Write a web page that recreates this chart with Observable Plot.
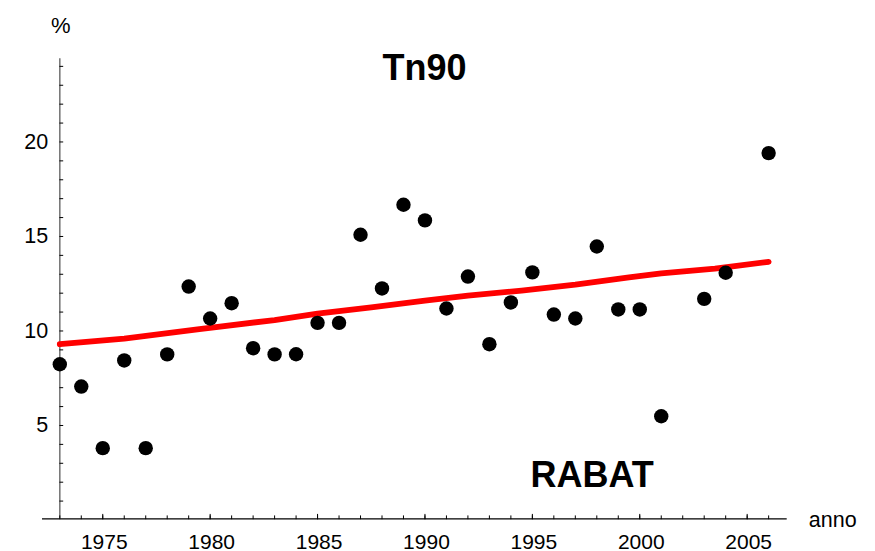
<!DOCTYPE html>
<html><head><meta charset="utf-8">
<script src="https://cdn.jsdelivr.net/npm/d3@7"></script>
<script src="https://cdn.jsdelivr.net/npm/@observablehq/plot@0.6"></script>
<style>html,body{margin:0;padding:0;background:#fff} svg{display:block}</style>
</head><body><div id="chart"></div>
<script>
// Data
const years  = [1973,1974,1975,1976,1977,1978,1979,1980,1981,1982,1983,1984,1985,1986,1987,1988,1989,1990,1991,1992,1993,1994,1995,1996,1997,1998,1999,2000,2001,2003,2004,2006];
const values = [8.24,7.06,3.80,8.44,3.80,8.76,12.35,10.66,11.47,9.09,8.76,8.77,10.43,10.43,15.09,12.25,16.68,15.85,11.19,12.88,9.30,11.51,13.10,10.87,10.66,14.47,11.14,11.14,5.49,11.70,13.08,19.41];
const trendYears  = [1973,1976,1979.5,1983,1985,1987.5,1990,1992,1994.5,1997,1999.5,2001,2003.5,2006];
const trendValues = [9.30,9.60,10.10,10.58,10.92,11.25,11.60,11.87,12.14,12.45,12.83,13.05,13.30,13.66];

const xMajorTicks = [1975,1980,1985,1990,1995,2000,2005];
const xMinorTicks = d3.range(1973, 2007);
const yMajorTicks = [5,10,15,20];
const yMinorTicks = d3.range(1, 25);

const titleText = "Tn90";
const stationText = "RABAT";
const yLabelText = "%";
const xLabelText = "anno";

const xDomain = [1973, 2006.864];
const xAxisStart = 1972.195;
const yDomain = [0.063, 24.4];

const points = years.map((y, i) => ({year: y, value: values[i]}));
const trend = trendYears.map((y, i) => ({year: y, value: trendValues[i]}));

const tickShape = {draw(context, length) { context.moveTo(0, 0); context.lineTo(0, -length); }};
const font = "Liberation Sans, Arial, Helvetica, sans-serif";

const chart = Plot.plot({
  width: 875,
  height: 551,
  marginLeft: 59.3,
  marginRight: 88.3,
  marginTop: 58.3,
  marginBottom: 32.7,
  style: {fontFamily: font, background: "#fff", overflow: "visible"},
  x: {domain: xDomain, axis: null},
  y: {domain: yDomain, axis: null},
  marks: [
    Plot.ruleX([xDomain[0]], {y1: yDomain[0], y2: yDomain[1], stroke: "#7a7a7a", strokeWidth: 1.6}),
    Plot.ruleY([yDomain[0]], {x1: xAxisStart, x2: xDomain[1], stroke: "#000", strokeWidth: 1.2}),
    Plot.vector(yMinorTicks, {y: d => d, frameAnchor: "left", rotate: 90, length: 3, anchor: "start", shape: tickShape, stroke: "#000", strokeWidth: 1}),
    Plot.vector(xMinorTicks, {x: d => d, frameAnchor: "bottom", rotate: 0, length: 3, anchor: "start", shape: tickShape, stroke: "#000", strokeWidth: 1}),
    Plot.vector(xMajorTicks, {x: d => d, frameAnchor: "bottom", rotate: 0, length: 4.5, anchor: "start", shape: tickShape, stroke: "#000", strokeWidth: 1}),
    Plot.text(yMajorTicks, {y: d => d, text: d => String(d), frameAnchor: "left", dx: -11.6, textAnchor: "end", lineAnchor: "middle", fontSize: 21.5, fill: "#000"}),
    Plot.text(xMajorTicks, {x: d => d, text: d => String(d), frameAnchor: "bottom", dx: 1.5, dy: 15, textAnchor: "middle", lineAnchor: "top", fontSize: 21, fill: "#000"}),
    Plot.line(trend, {x: "year", y: "value", stroke: "#ff0000", strokeWidth: 5.8, strokeLinecap: "round", strokeLinejoin: "round"}),
    Plot.dot(points, {x: "year", y: "value", r: 7.2, fill: "#000", stroke: "none"}),
    Plot.text([titleText], {text: d => d, frameAnchor: "top", dx: 1, dy: 21, lineAnchor: "bottom", textAnchor: "middle", fontSize: 36, fontWeight: "bold", fill: "#000"}),
    Plot.text([stationText], {text: d => d, frameAnchor: "bottom", dx: 168.7, dy: -31.6, lineAnchor: "bottom", textAnchor: "middle", fontSize: 36, fontWeight: "bold", fill: "#000"}),
    Plot.text([yLabelText], {text: d => d, frameAnchor: "top-left", dx: 1, dy: -26, lineAnchor: "bottom", textAnchor: "middle", fontSize: 22, fill: "#000"}),
    Plot.text([xLabelText], {text: d => d, frameAnchor: "bottom-right", dx: 21.6, dy: 8.4, lineAnchor: "bottom", textAnchor: "start", fontSize: 21.5, fill: "#000"})
  ]
});
document.getElementById("chart").appendChild(chart);
</script>
</body></html>
